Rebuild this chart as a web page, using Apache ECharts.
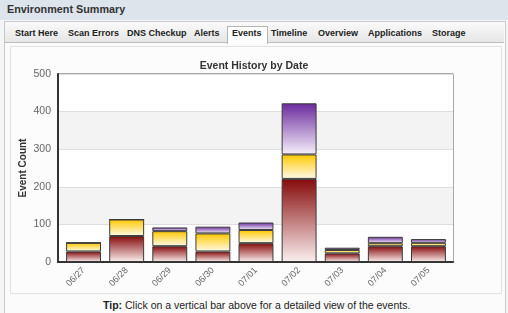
<!DOCTYPE html>
<html><head><meta charset="utf-8">
<script src="https://cdn.jsdelivr.net/npm/echarts@6/dist/echarts.min.js"></script>
<style>
html,body{margin:0;padding:0;width:508px;height:313px;overflow:hidden;background:#f3f5f7;font-family:"Liberation Sans",Arial,sans-serif;}
#hdr{position:absolute;left:0;top:0;width:508px;height:20px;background:#dde4ec;}
#hdr span{position:absolute;left:7px;top:3px;font-size:10.8px;font-weight:bold;color:#333;}
#panel{position:absolute;left:4px;top:21px;width:500px;height:300px;border:1px solid #c8c8c8;background:#fbfbfb;}
#tabbar{position:absolute;left:5px;top:22px;width:499px;height:20px;background:linear-gradient(#fafafa,#e6e6e6);border-bottom:1px solid #bdbdbd;}
.tab{position:absolute;top:28px;font-size:9px;font-weight:bold;color:#222;white-space:nowrap;}
#active{position:absolute;left:227px;top:26px;width:39px;height:17px;background:#fff;border:1px solid #b5b5b5;border-bottom:none;}
#box{position:absolute;left:10px;top:46px;width:490px;height:246px;border:1px solid #e2e2e2;background:#fcfcfc;}
#tip{position:absolute;left:103px;top:299px;font-size:10.5px;color:#222;white-space:nowrap;}
#chart{position:absolute;left:0;top:0;width:508px;height:313px;}
</style></head>
<body>
<div id="hdr"><span>Environment Summary</span></div>
<div id="panel"></div>
<div id="tabbar"></div>
<div id="active"></div>
<div class="tab" style="left:15px">Start Here</div>
<div class="tab" style="left:68px">Scan Errors</div>
<div class="tab" style="left:127px">DNS Checkup</div>
<div class="tab" style="left:194px">Alerts</div>
<div class="tab" style="left:232px">Events</div>
<div class="tab" style="left:271px">Timeline</div>
<div class="tab" style="left:318px">Overview</div>
<div class="tab" style="left:368px">Applications</div>
<div class="tab" style="left:432px">Storage</div>
<div id="box"></div>
<div id="tip"><b>Tip:</b> Click on a vertical bar above for a detailed view of the events.</div>
<div id="chart"></div>
<script>
const categories = ['06/27','06/28','06/29','06/30','07/01','07/02','07/03','07/04','07/05'];
const redValues    = [28, 69, 42, 28, 50, 221, 23, 42, 42];
const yellowValues = [23, 44, 40, 48, 35, 65, 9, 8, 9];
const purpleValues = [0, 0, 10, 18, 20, 136, 6, 17, 10];
const yTicks = [0, 100, 200, 300, 400, 500];

function grad(top, bottom){
  return new echarts.graphic.LinearGradient(0,0,0,1,[{offset:0,color:top},{offset:1,color:bottom}]);
}
const chart = echarts.init(document.getElementById('chart'), null, {renderer:'canvas'});
const itemBase = {borderColor:'#3a3a3a', borderWidth:1};
const yMin = yTicks[0], yMax = yTicks[yTicks.length-1];
chart.setOption({
  animation:false,
  backgroundColor:'transparent',
  title:{text:'Event History by Date', left:'center', top:56, textStyle:{fontSize:10.5, fontWeight:'bold', color:'#333', fontFamily:'Liberation Sans'}},
  grid:[
    {left:58, top:74, right:55, bottom:51, show:true, borderColor:'#555', borderWidth:1, backgroundColor:'#fff'},
    {left:62, top:74, right:58, bottom:51}
  ],
  xAxis:[
    {type:'value', gridIndex:0, min:0, max:1, axisLine:{show:true, onZero:false, lineStyle:{color:'#333', width:2}},
      axisTick:{show:false}, axisLabel:{show:false}, splitLine:{show:false}},
    {type:'category', gridIndex:1, data:categories,
      axisLine:{show:false}, axisTick:{show:false},
      axisLabel:{rotate:45, fontSize:9, color:'#666', margin:7, fontFamily:'Liberation Sans'}}
  ],
  yAxis:[
    {type:'value', gridIndex:0, min:yMin, max:yMax, interval:100,
      name:'Event Count', nameLocation:'middle', nameGap:30, nameMoveOverlap:false,
      nameTextStyle:{fontSize:10, fontWeight:'bold', color:'#333', fontFamily:'Liberation Sans'},
      axisLine:{show:true, lineStyle:{color:'#333', width:2}}, axisTick:{show:false},
      axisLabel:{fontSize:10.5, color:'#666', margin:7, fontFamily:'Liberation Sans'},
      splitLine:{lineStyle:{color:'#dedede'}},
      splitArea:{show:true, areaStyle:{color:['#ffffff','#f3f3f3']}}},
    {type:'value', gridIndex:1, min:yMin, max:yMax, show:false}
  ],
  series:[
    {name:'red', type:'bar', stack:'s', xAxisIndex:1, yAxisIndex:1, data:redValues, barCategoryGap:'19%',
      itemStyle:Object.assign({color:grad('#860a0a','#fbf0f0')}, itemBase)},
    {name:'yellow', type:'bar', stack:'s', xAxisIndex:1, yAxisIndex:1, data:yellowValues,
      itemStyle:Object.assign({color:grad('#ffc800','#fffaea')}, itemBase)},
    {name:'purple', type:'bar', stack:'s', xAxisIndex:1, yAxisIndex:1, data:purpleValues,
      itemStyle:Object.assign({color:grad('#6a2a9c','#f6f0fb')}, itemBase)}
  ]
});
</script>
</body></html>
